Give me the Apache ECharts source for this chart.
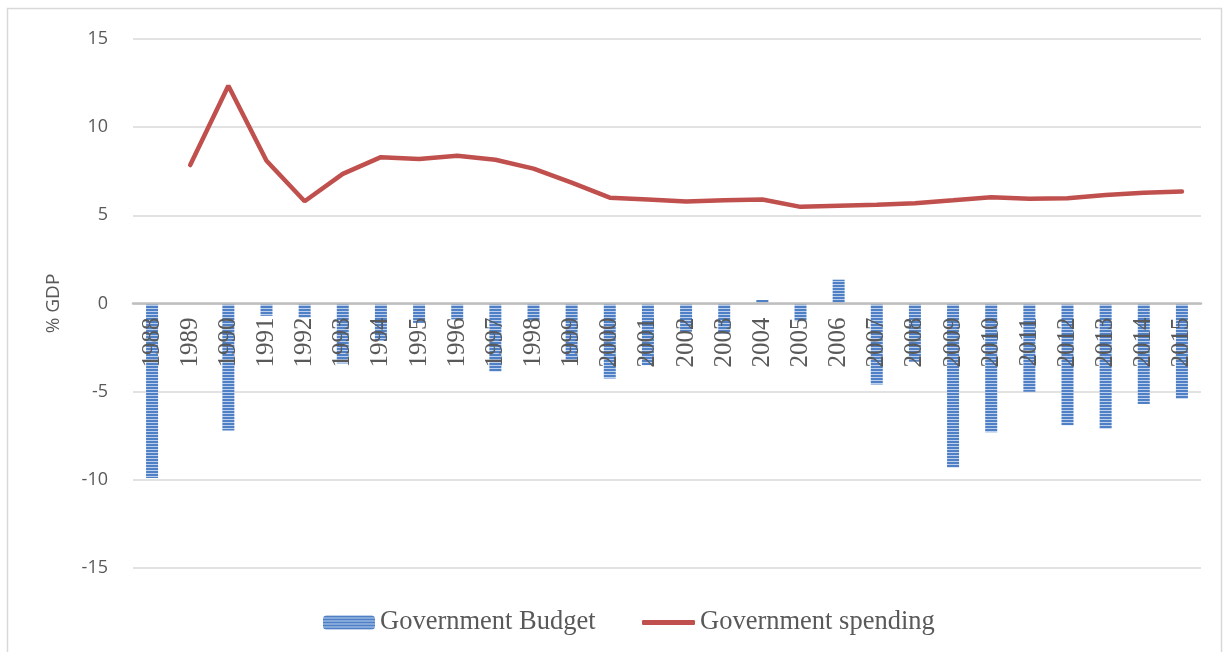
<!DOCTYPE html>
<html>
<head>
<meta charset="utf-8">
<script src="https://cdn.jsdelivr.net/npm/echarts@6/dist/echarts.min.js"></script>
<style>
html,body{margin:0;padding:0;background:#fff;}
#c{width:1229px;height:652px;}
</style>
</head>
<body>
<div id="c"></div>
<script>
var years = ['1988','1989','1990','1991','1992','1993','1994','1995','1996','1997','1998','1999','2000','2001','2002','2003','2004','2005','2006','2007','2008','2009','2010','2011','2012','2013','2014','2015'];
var budget = [-9.9, null, -7.2, -0.7, -0.8, -3.4, -2.1, -1.1, -0.9, -3.85, -1.0, -3.2, -4.25, -3.5, -1.6, -1.7, 0.2, -1.0, 1.35, -4.6, -3.3, -9.3, -7.3, -5.0, -6.9, -7.1, -5.7, -5.4];
var spending = [null, 7.85, 12.35, 8.1, 5.8, 7.35, 8.3, 8.2, 8.38, 8.15, 7.65, 6.85, 6.0, 5.9, 5.78, 5.86, 5.9, 5.48, 5.54, 5.6, 5.68, 5.85, 6.03, 5.94, 5.97, 6.15, 6.28, 6.35];
var yTicks = [-15, -10, -5, 0, 5, 10, 15];

// striped pattern for the bars
var pc = document.createElement('canvas');
pc.width = 4; pc.height = 3;
var pctx = pc.getContext('2d');
pctx.fillStyle = '#4f80c6'; pctx.fillRect(0, 0, 4, 2);
pctx.fillStyle = '#bcd0ee'; pctx.fillRect(0, 2, 4, 1);

var gridTop = 39, gridBottom = 84, H = 652;
var yMin = yTicks[0], yMax = yTicks[yTicks.length - 1];
var plotH = H - gridTop - gridBottom;
var zeroOffset = -plotH * (0 - yMin) / (yMax - yMin);

var legendText = {fontFamily: 'Liberation Serif', fontSize: 26.5, color: '#595959'};

var chart = echarts.init(document.getElementById('c'));
chart.setOption({
  animation: false,
  backgroundColor: '#fff',
  graphic: [{
    type: 'rect', shape: {x: 7.5, y: 8.5, width: 1214, height: 700},
    style: {fill: 'none', stroke: '#d9d9d9', lineWidth: 1.5}, z: -10
  }],
  grid: {left: 133, right: 28, top: gridTop, bottom: gridBottom},
  legend: [{
    left: 318, top: 604, itemWidth: 52, itemHeight: 14, textStyle: legendText,
    data: ['Government Budget']
  }, {
    left: 637, top: 604, itemWidth: 53, itemHeight: 5, icon: 'roundRect', textStyle: legendText,
    data: ['Government spending']
  }],
  xAxis: {
    type: 'category', data: years, z: 10, offset: zeroOffset,
    axisTick: {show: false},
    axisLine: {onZero: false, lineStyle: {color: '#bfbfbf', width: 2.5}},
    axisLabel: {rotate: 90, interval: 0, margin: 14, fontFamily: 'Liberation Serif', fontSize: 25, color: '#595959'}
  },
  yAxis: {
    type: 'value', min: yMin, max: yMax, interval: 5,
    name: '% GDP', nameLocation: 'middle', nameGap: 70, nameRotate: 90,
    nameTextStyle: {fontFamily: 'Open Sans', fontSize: 19, color: '#595959'},
    axisLine: {show: false}, axisTick: {show: false},
    axisLabel: {margin: 25, fontFamily: 'Open Sans', fontSize: 18, color: '#595959'},
    splitLine: {lineStyle: {color: '#d9d9d9', width: 1.5}}
  },
  series: [{
    name: 'Government Budget', type: 'bar', data: budget, barWidth: 12,
    itemStyle: {color: {image: pc, repeat: 'repeat'}}
  }, {
    name: 'Government spending', type: 'line', data: spending, symbol: 'none',
    lineStyle: {color: '#c0504d', width: 4.5, cap: 'round'},
    itemStyle: {color: '#c0504d'}
  }]
});
</script>
</body>
</html>
